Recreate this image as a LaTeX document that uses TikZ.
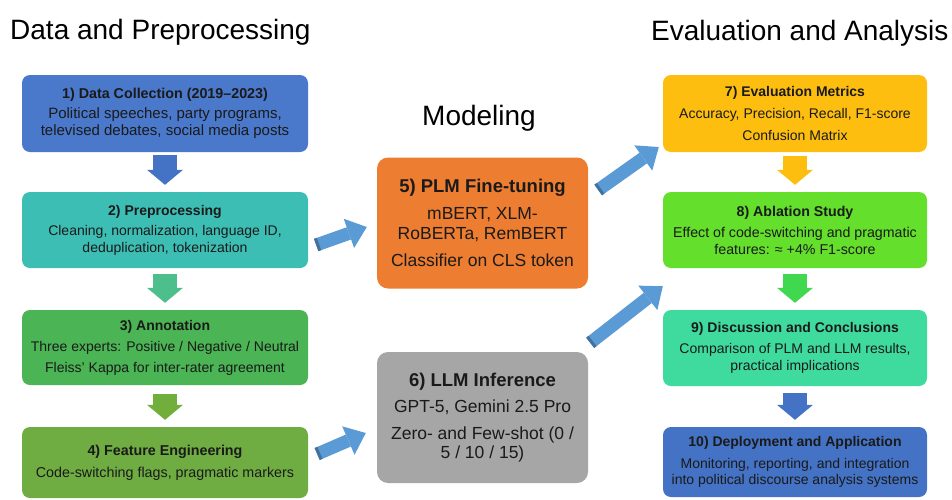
\documentclass[tikz,border=0pt]{standalone}
\usepackage{fontspec}
\setmainfont{Liberation Sans}
\usetikzlibrary{arrows.meta,calc}

\definecolor{cA}{HTML}{4A78CA}
\definecolor{cB}{HTML}{3DBEB4}
\definecolor{cBC}{HTML}{4DBF8C}
\definecolor{cC}{HTML}{4BB454}
\definecolor{cCD}{HTML}{72AE3C}
\definecolor{cD}{HTML}{6FAD43}
\definecolor{cE}{HTML}{ED7D31}
\definecolor{cF}{HTML}{A6A6A6}
\definecolor{cG}{HTML}{FDBE10}
\definecolor{cH}{HTML}{63DF2C}
\definecolor{cHI}{HTML}{3FD84F}
\definecolor{cI}{HTML}{3FDB9E}
\definecolor{cJ}{HTML}{4472C4}
\definecolor{flowblue}{HTML}{5B9BD5}
\definecolor{flowdark}{HTML}{41719C}
\definecolor{ink}{HTML}{1A1A1A}

\begin{document}
\begin{tikzpicture}[x=1pt,y=-1pt,
  heading/.style={inner sep=0pt, text=black, font=\fontsize{28}{32}\selectfont},
  stagebox/.style={rounded corners=8pt, minimum width=265pt, align=center,
    text=ink, inner sep=0pt, font=\fontsize{14}{17}\selectfont},
  leftbox/.style={stagebox, minimum width=286pt},
  rightbox/.style={stagebox, minimum width=264pt},
  modelbox/.style={rounded corners=11pt, minimum width=211pt, minimum height=131pt,
    align=center, text=ink, inner sep=0pt, font=\fontsize{17.5}{20}\selectfont},
  downflow/.style={line width=24pt, -{Triangle[width=36pt,length=15pt,line width=0pt]}},
  sideflow/.style={line width=13pt, draw=flowblue,
    -{Triangle[width=31pt,length=19pt,line width=0pt]}},
  sidecap/.style={line width=13pt, draw=flowdark}
]
\useasboundingbox (0,0) rectangle (952,499);

% column headings
\node[heading, anchor=base west] (hdata) at (10,39) {Data and Preprocessing};
\node[heading, anchor=base] (hmodel) at (479,125) {Modeling};
\node[heading, anchor=base west] (heval) at (651,40) {Evaluation and Analysis};

% left column
\node[leftbox, fill=cA, minimum height=77pt, font=\fontsize{15}{17}\selectfont] (b1) at (165,113.5)
  {\textbf{\fontsize{14.3}{17}\selectfont 1) Data Collection (2019–2023)}\\[3pt]Political speeches, party programs,\\televised debates, social media posts};
\node[leftbox, fill=cB, minimum height=76pt] (b2) at (165,230)
  {\textbf{2) Preprocessing}\\[3pt]Cleaning, normalization, language ID,\\deduplication, tokenization};
\node[leftbox, fill=cC, minimum height=75pt] (b3) at (165,347.5)
  {\textbf{3) Annotation}\\[4pt]Three experts: Positive / Negative / Neutral\\[4pt]Fleiss' Kappa for inter-rater agreement};
\node[leftbox, fill=cD, minimum height=71pt, font=\fontsize{14.3}{17}\selectfont] (b4) at (165,462.5)
  {\textbf{4) Feature Engineering}\\[5pt]Code-switching flags, pragmatic markers};

% middle column
\node[modelbox, fill=cE] (b5) at (482.5,223)
  {\textbf{\fontsize{18.5}{20}\selectfont 5) PLM Fine-tuning}\\[7pt]mBERT, XLM-\\RoBERTa, RemBERT\\[7pt]Classifier on CLS token};
\node[modelbox, fill=cF] (b6) at (482.5,417.5)
  {\textbf{\fontsize{18.5}{20}\selectfont 6) LLM Inference}\\[6pt]GPT-5, Gemini 2.5 Pro\\[7pt]Zero- and Few-shot (0 /\\[-1pt]5 / 10 / 15)};

% right column
\node[rightbox, fill=cG, minimum height=77pt] (b7) at (795,113.5)
  {\textbf{7) Evaluation Metrics}\\[5pt]Accuracy, Precision, Recall, F1-score\\[5pt]Confusion Matrix};
\node[rightbox, fill=cH, minimum height=76pt, font=\fontsize{14.2}{17}\selectfont] (b8) at (795,230)
  {\textbf{8) Ablation Study}\\[4pt]Effect of code-switching and pragmatic\\features: ≈ +4\% F1-score};
\node[rightbox, fill=cI, minimum height=76pt] (b9) at (795,348)
  {\textbf{9) Discussion and Conclusions}\\[4pt]Comparison of PLM and LLM results,\\practical implications};
\node[rightbox, fill=cJ, minimum height=70pt] (b10) at (795,462)
  {\textbf{10) Deployment and Application}\\[5pt]Monitoring, reporting, and integration\\[-1pt]into political discourse analysis systems};

% vertical flow arrows
\draw[downflow, draw=cJ] ($(b1.south)+(0,3)$) -- ($(b2.north)+(0,-7)$);
\draw[downflow, draw=cBC] ($(b2.south)+(0,6)$) -- ($(b3.north)+(0,-7)$);
\draw[downflow, draw=cCD] ($(b3.south)+(0,9)$) -- ($(b4.north)+(0,-7)$);
\draw[downflow, draw=cG] ($(b7.south)+(0,4)$) -- ($(b8.north)+(0,-7)$);
\draw[downflow, draw=cHI] ($(b8.south)+(0,6)$) -- ($(b9.north)+(0,-7)$);
\draw[downflow, draw=cJ] ($(b9.south)+(0,7)$) -- ($(b10.north)+(0,-7)$);

% diagonal flow arrows between columns
\coordinate (t25) at ($(b2.east)+(8,15)$);
\coordinate (h25) at ($(b5.west)+(-10,4)$);
\coordinate (t46) at ($(b4.east)+(9,-8.5)$);
\coordinate (h46) at ($(b6.west)+(-11,15.5)$);
\coordinate (t57) at ($(b5.east)+(10,-33)$);
\coordinate (h57) at ($(b7.west)+(-4,33.5)$);
\coordinate (t68) at ($(b6.north east)+(2,-9)$);
\coordinate (h68) at ($(b8.south west)+(0,18)$);

\foreach \t/\h in {t25/h25, t46/h46, t57/h57, t68/h68} {
  \draw[sideflow] (\t) -- (\h);
  \draw[sidecap] (\t) -- ($(\t)!3pt!(\h)$);
}
\end{tikzpicture}
\end{document}
